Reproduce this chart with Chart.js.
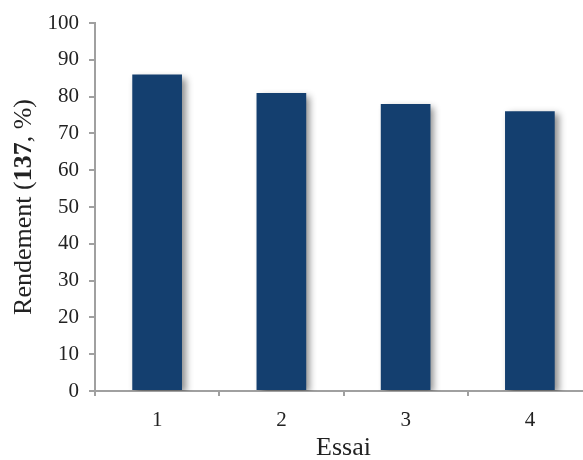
<!DOCTYPE html>
<html>
<head>
<meta charset="utf-8">
<script src="https://cdn.jsdelivr.net/npm/chart.js@4/dist/chart.umd.min.js"></script>
<style>
html,body{margin:0;padding:0;background:#fff;overflow:hidden;width:583px;height:460px;}
#wrap{position:relative;width:592px;height:460px;}
</style>
</head>
<body>
<div id="wrap"><canvas id="c"></canvas></div>
<script>
const categories = ['1', '2', '3', '4'];
const rendement = [86, 81, 78, 76];
const yTicks = [0, 10, 20, 30, 40, 50, 60, 70, 80, 90, 100];
const xTitle = 'Essai';
const yTitleParts = [
  { text: 'Rendement (', bold: false },
  { text: '137', bold: true },
  { text: ', %)', bold: false }
];

const FONT = '"Liberation Serif", "Times New Roman", serif';
const AXIS = '#a0a0a0';
const TXT = '#222222';

const shadowPlugin = {
  id: 'barShadow',
  beforeDatasetDraw(chart) {
    const ctx = chart.ctx;
    ctx.save();
    ctx.shadowColor = 'rgba(0,0,0,0.45)';
    ctx.shadowBlur = 7;
    ctx.shadowOffsetX = 4;
    ctx.shadowOffsetY = 3;
  },
  afterDatasetDraw(chart) {
    chart.ctx.restore();
  }
};

const yTitlePlugin = {
  id: 'yTitle',
  afterDraw(chart) {
    const ctx = chart.ctx;
    const a = chart.chartArea;
    const size = 26;
    ctx.save();
    const widths = yTitleParts.map(p => {
      ctx.font = (p.bold ? 'bold ' : '') + size + 'px ' + FONT;
      return ctx.measureText(p.text).width;
    });
    const total = widths.reduce((s, w) => s + w, 0);
    ctx.translate(24, (a.top + a.bottom) / 2);
    ctx.rotate(-Math.PI / 2);
    ctx.fillStyle = TXT;
    ctx.textBaseline = 'middle';
    ctx.textAlign = 'left';
    let x = -total / 2;
    yTitleParts.forEach((p, i) => {
      ctx.font = (p.bold ? 'bold ' : '') + size + 'px ' + FONT;
      ctx.fillText(p.text, x, 0);
      x += widths[i];
    });
    ctx.restore();
  }
};

new Chart(document.getElementById('c'), {
  type: 'bar',
  data: {
    labels: categories,
    datasets: [{
      data: rendement,
      backgroundColor: '#143f6f',
      borderWidth: 0,
      categoryPercentage: 0.4,
      barPercentage: 1.0
    }]
  },
  options: {
    responsive: true,
    maintainAspectRatio: false,
    animation: false,
    layout: { padding: { left: 0, right: 0, top: 23, bottom: 0 } },
    plugins: { legend: { display: false }, tooltip: { enabled: false } },
    scales: {
      x: {
        grid: { display: true, drawOnChartArea: false, drawTicks: true, tickLength: 5, color: AXIS, lineWidth: 2, offset: true },
        border: { display: true, color: AXIS, width: 2 },
        ticks: { color: TXT, font: { family: FONT, size: 21 }, padding: 12 },
        title: { display: true, text: xTitle, color: TXT, font: { family: FONT, size: 26, lineHeight: 0.9 }, padding: { top: 4, bottom: 0 } },
        afterFit(scale) { scale.height = 69; }
      },
      y: {
        min: 0,
        max: 100,
        afterBuildTicks(scale) { scale.ticks = yTicks.map(v => ({ value: v })); },
        grid: { display: true, drawOnChartArea: false, drawTicks: true, tickLength: 6, color: AXIS, lineWidth: 2 },
        border: { display: true, color: AXIS, width: 2 },
        ticks: { color: TXT, font: { family: FONT, size: 21 }, padding: 10 },
        afterFit(scale) { scale.width = 95; }
      }
    }
  },
  plugins: [shadowPlugin, yTitlePlugin]
});
</script>
</body>
</html>
